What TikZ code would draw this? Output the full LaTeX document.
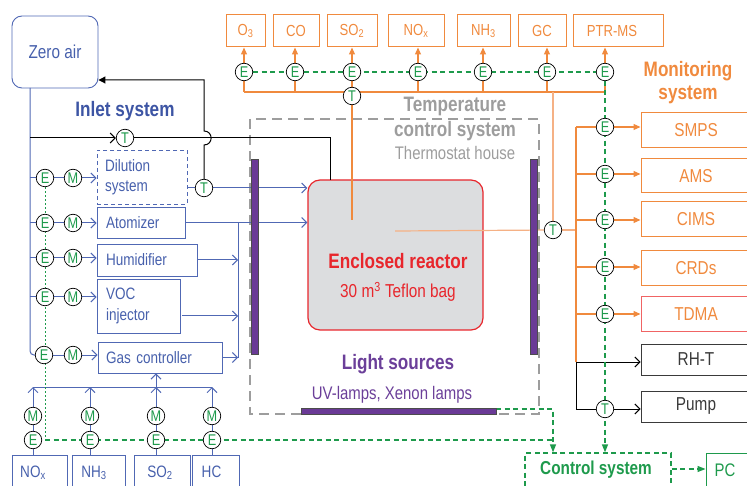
\documentclass[tikz,border=0pt]{standalone}
\usepackage{fontspec}
\setmainfont[FakeStretch=0.82]{Liberation Sans}
\usetikzlibrary{arrows.meta,calc}
\pgfdeclarelayer{fg}
\pgfsetlayers{main,fg}
\definecolor{cblue}{HTML}{5068B4}
\definecolor{cbluet}{HTML}{4760AC}
\definecolor{cbluebold}{HTML}{3D55A4}
\definecolor{corange}{HTML}{F08A3E}
\definecolor{corlight}{HTML}{F5B185}
\definecolor{cgreen}{HTML}{1E9A4C}
\definecolor{cgray}{HTML}{9D9D9D}
\definecolor{cred}{HTML}{E8262C}
\definecolor{cpurple}{HTML}{6B3F99}
\definecolor{cpbar}{HTML}{6A3A96}
\definecolor{creact}{HTML}{DCDDDF}
\definecolor{cdark}{HTML}{3A3A3A}
\definecolor{ctdma}{HTML}{F06464}
\newcommand{\myfs}[1]{\fontsize{#1}{#1}\selectfont}
\begin{document}
\begin{tikzpicture}[x=1pt,y=-1pt,
  every node/.style={inner sep=0pt},
  bbox/.style={draw=cblue,line width=0.9pt,text=cbluet,font=\myfs{16.5}},
  obox/.style={draw=corange,line width=1pt,text=corange,font=\myfs{16},minimum height=32pt},
  mbox/.style={draw=corange,line width=1pt,text=corange,font=\myfs{18.7},minimum width=110pt,minimum height=34pt},
  kbox/.style={draw=cdark,line width=0.9pt,text=cdark,font=\myfs{18.7},minimum width=110pt,minimum height=31pt},
  circ/.style={circle,draw=black,line width=0.7pt,fill=white,minimum size=17.5pt,text=cgreen,font=\myfs{15.5}},
  bline/.style={draw=cblue,line width=1pt},
  oline/.style={draw=corange,line width=1.2pt},
  lline/.style={draw=corlight,line width=1.2pt},
  kline/.style={draw=black,line width=1pt},
  gdash/.style={draw=cgreen,line width=1.3pt,dash pattern=on 5pt off 3.5pt},
  gdot/.style={draw=cgreen,line width=1pt,dash pattern=on 2pt off 2pt},
  barb/.style={-{Straight Barb[length=5pt,width=10pt]}},
  otri/.style={-{Triangle[length=7pt,width=6pt]}},
  ktri/.style={-{Triangle[length=7pt,width=7pt]}},
  gtri/.style={-{Triangle[length=8pt,width=6pt]}},
  pbar/.style={fill=cpbar,draw=black!70,line width=0.5pt},
  txt/.style={anchor=base}
]
\useasboundingbox (0,0) rectangle (747,486);
\clip (0,0) rectangle (747,486);

% ---------- boxes ----------
\node[bbox,rounded corners=10pt,minimum width=86pt,minimum height=72pt,font=\myfs{18.7}] (zero) at (55,52) {Zero air};
\node[txt,text=cbluebold,font=\bfseries\myfs{20.9}] (inlet) at (125,117) {Inlet system};

\node[bbox,dash pattern=on 4pt off 3pt,minimum width=90pt,minimum height=54pt,text width=74pt,align=left,font=\fontsize{16.5}{19.5}\selectfont] (dil) at (142,177) {Dilution\\system};
\node[bbox,minimum width=88pt,minimum height=31pt,text width=70pt,align=left] (atom) at (141,222.5) {Atomizer};
\node[bbox,minimum width=100pt,minimum height=32pt,text width=82pt,align=left] (hum) at (147,260) {Humidifier};
\node[bbox,minimum width=83pt,minimum height=54pt,text width=65pt,align=left,font=\fontsize{16.5}{20.5}\selectfont] (voc) at (138.5,306) {VOC\\injector};
\node[bbox,minimum width=124pt,minimum height=31pt,text width=108pt,align=left] (gas) at (160,357.5) {Gas controller};

% bottom gas sources
\node[bbox,minimum width=55pt,minimum height=35pt] (bNO) at (39.5,472.5) {};
\node[bbox,minimum width=53pt,minimum height=35pt] (bNH) at (98.5,472.5) {};
\node[bbox,minimum width=56pt,minimum height=35pt] (bSO) at (162,472.5) {};
\node[bbox,minimum width=47pt,minimum height=35pt] (bHC) at (215.5,472.5) {};
\node[txt,text=cbluet,font=\myfs{16.5}] (tNO) at (33,477) {NO\textsubscript{x}};
\node[txt,text=cbluet,font=\myfs{16.5}] (tNH) at (94,477) {NH\textsubscript{3}};
\node[txt,text=cbluet,font=\myfs{16.5}] (tSO) at (160,477) {SO\textsubscript{2}};
\node[txt,text=cbluet,font=\myfs{16.5}] (tHC) at (211.5,477) {HC};

% top monitors
\node[obox,minimum width=39pt] (bO3) at (245.5,31) {O\textsubscript{3}};
\node[obox,minimum width=46pt] (bCO) at (296,31) {CO};
\node[obox,minimum width=50pt] (bSO2) at (352,31) {SO\textsubscript{2}};
\node[obox,minimum width=56pt] (bNOx) at (416,31) {NO\textsubscript{x}};
\node[obox,minimum width=53pt] (bNH3) at (483.5,31) {NH\textsubscript{3}};
\node[obox,minimum width=48pt] (bGC) at (542,31) {GC};
\node[obox,minimum width=90pt] (bPT) at (618,31) {\hspace*{-12pt}PTR-MS};

\node[txt,text=corange,font=\bfseries\myfs{20.9}] (mon1) at (688,77) {Monitoring};
\node[txt,text=corange,font=\bfseries\myfs{20.9}] (mon2) at (688,100) {system};

% right instruments
\node[mbox,minimum height=35pt] (bSM) at (696,130.5) {SMPS};
\node[mbox] (bAM) at (696,176) {AMS};
\node[mbox,minimum height=35pt] (bCI) at (696,219.5) {CIMS};
\node[mbox,minimum height=35pt] (bCR) at (696,268.5) {CRDs};
\node[mbox,draw=ctdma,minimum height=35pt] (bTD) at (696,314.5) {TDMA};
\node[kbox] (bRH) at (696,359.5) {RH-T};
\node[kbox] (bPU) at (696,406.5) {Pump};

% reactor
\node[draw=cred,line width=1.2pt,fill=creact,rounded corners=12pt,minimum width=175pt,minimum height=150pt] (reac) at (395.5,255) {};
\node[txt,text=cred,font=\bfseries\myfs{20.9}] (reacT) at (398,269) {Enclosed reactor};
\node[txt,text=cred,font=\myfs{18.7}] (reacS) at (398,298) {30 m\textsuperscript{3} Teflon bag};

% temperature control
\draw[draw=cgray,line width=2.5pt,dash pattern=on 10pt off 6pt] (250,119) rectangle (539,414);
\node[txt,text=cgray,font=\bfseries\myfs{20.9}] (tc1) at (455,112) {Temperature};
\node[txt,text=cgray,font=\bfseries\myfs{20.9}] (tc2) at (455,137) {control system};
\node[txt,text=cgray,font=\myfs{18.2}] (tc3) at (455,160) {Thermostat house};

\node[txt,text=cpurple,font=\bfseries\myfs{20.9}] (ls1) at (398,370) {Light sources};
\node[txt,text=cpurple,font=\myfs{18.2}] (ls2) at (392,399) {UV-lamps, Xenon lamps};

% control system and PC
\node[draw=cgreen,line width=1.3pt,dash pattern=on 5pt off 3.5pt,minimum width=146pt,minimum height=37pt] (ctrl) at (598,471.5) {};
\node[txt,text=cgreen,font=\bfseries\myfs{18.7}] (ctrlT) at (596,474) {Control system};
\node[draw=cgreen,line width=1pt,minimum width=54pt,minimum height=37pt] (pc) at (733,471.5) {};
\node[txt,text=cgreen,font=\myfs{18.2}] (pcT) at (725,476) {PC};

% ---------- circles ----------
\begin{pgfonlayer}{fg}
\node[circ] (eD) at (45,178) {E}; \node[circ] (mD) at (73,178) {M};
\node[circ] (eA) at (45,223) {E}; \node[circ] (mA) at (73,223) {M};
\node[circ] (eH) at (45,258) {E}; \node[circ] (mH) at (73,258) {M};
\node[circ] (eV) at (45,297) {E}; \node[circ] (mV) at (73,297) {M};
\node[circ] (eG) at (44,355) {E}; \node[circ] (mG) at (73,355) {M};
\node[circ] (tT) at (125,138) {T};
\node[circ] (tD) at (204,188) {T};
\node[circ] (eO3) at (244,72) {E};
\node[circ] (eCO) at (295,72) {E};
\node[circ] (eSO2) at (352,72) {E};
\node[circ] (eNOx) at (418,72) {E};
\node[circ] (eNH3) at (483,72) {E};
\node[circ] (eGC) at (547,72) {E};
\node[circ] (ePT) at (605,72) {E};
\node[circ] (tTop) at (352,96) {T};
\node[circ] (tR) at (553,230) {T};
\node[circ] (eSM) at (605,127) {E};
\node[circ] (eAM) at (605,174) {E};
\node[circ] (eCI) at (605,220) {E};
\node[circ] (eCR) at (605,267) {E};
\node[circ] (eTD) at (605,314) {E};
\node[circ] (tP) at (605,409) {T};
\node[circ] (eb1) at (33,440) {E}; \node[circ] (mb1) at (33,416) {M};
\node[circ] (eb2) at (90,440) {E}; \node[circ] (mb2) at (90,416) {M};
\node[circ] (eb3) at (156,440) {E}; \node[circ] (mb3) at (156,416) {M};
\node[circ] (eb4) at (212,440) {E}; \node[circ] (mb4) at (212,416) {M};
\end{pgfonlayer}

% ---------- coordinates ----------
\coordinate (zaout) at (30,88);
\coordinate (rtop) at (330,180);
\coordinate (retc) at (204,80);
\coordinate (coll) at (238,223);
\coordinate (vocout) at (182,316);
\coordinate (busb) at (0,387);
\coordinate (gbot) at (0,440);
\coordinate (cjoin) at (553,440);
\coordinate (lampR) at (496,409);
\coordinate (pcy) at (0,469);
\coordinate (busy) at (0,92);
\coordinate (rin1) at (352,220);
\coordinate (rin2) at (395,231);
\coordinate (rvtop) at (576,127);
\coordinate (rvbot) at (576,362);

% ---------- inlet connectors ----------
\draw[bline,rounded corners=4pt] (zaout) -- (zaout |- eG) -- (eG);
\foreach \e in {eD,eA,eH,eV} \draw[bline] (zaout |- \e) -- (\e);
\draw[bline] (eD) -- (mD); \draw[bline,barb] (mD) -- (mD -| dil.west);
\draw[bline] (eA) -- (mA); \draw[bline,barb] (mA) -- (mA -| atom.west);
\draw[bline] (eH) -- (mH); \draw[bline,barb] (mH) -- (mH -| hum.west);
\draw[bline] (eV) -- (mV); \draw[bline,barb] (mV) -- (mV -| voc.west);
\draw[bline] (eG) -- (mG); \draw[bline,barb] (mG) -- (mG -| gas.west);

\draw[kline,barb] (zaout |- tT) -- (tT);
\draw[kline] (tT) -- (tT -| rtop) -- (rtop);
\draw[kline,ktri] (tD) -- (204,145) .. controls (213.5,145) and (213.5,131) .. (204,131) -- (retc) -- (retc -| zero.east);

\draw[bline] (dil.east |- tD) -- (tD);
\draw[bline,barb] (tD) -- (tD -| reac.west);
\draw[bline,barb] (atom.east) -- (atom.east -| reac.west);
\draw[bline] (coll) -- (coll |- gas.east);
\draw[bline,barb] (hum.east) -- (hum.east -| coll);
\draw[bline,barb] (vocout) -- (vocout -| coll);
\draw[bline,barb] (gas.east) -- (gas.east -| coll);

\draw[bline,barb] (bNO.north -| eb1) -- (eb1 |- busb);
\draw[bline,barb] (bNH.north -| eb2) -- (eb2 |- busb);
\draw[bline,barb] (bSO.north -| eb3) -- (eb3 |- busb);
\draw[bline,barb] (bHC.north -| eb4) -- (eb4 |- busb);
\draw[bline] (eb1 |- busb) -- (eb4 |- busb);
\draw[bline,barb] (eb3 |- busb) -- (eb3 |- gas.south);

% ---------- monitoring connectors ----------
\foreach \e/\b in {eO3/bO3,eCO/bCO,eSO2/bSO2,eNOx/bNOx,eNH3/bNH3,eGC/bGC,ePT/bPT}{
  \draw[oline] (\e |- busy) -- (\e);
  \draw[oline,otri] (\e) -- (\e |- \b.south);
}
\draw[oline] (eO3 |- busy) -- (ePT |- busy);
\draw[oline] (tTop) -- (rin1);
\draw[lline] (tR |- busy) -- (tR);
\draw[lline] (tR) -- (rin2);
\draw[lline] (tR) -- (tR -| rvtop);
\draw[oline] (rvtop) -- (rvbot);
\foreach \e/\b in {eSM/bSM,eAM/bAM,eCI/bCI,eCR/bCR,eTD/bTD}{
  \draw[oline] (rvtop |- \e) -- (\e);
  \draw[oline,otri] (\e) -- (\e -| \b.west);
}
\draw[kline,barb] (rvbot) -- (rvbot -| bRH.west);
\draw[kline] (rvbot) -- (rvbot |- tP) -- (tP);
\draw[kline,barb] (tP) -- (tP -| bPU.west);

% ---------- control (green) ----------
\draw[gdot] (eD) -- (eD |- gbot);
\draw[gdash] (eD |- gbot) -- (cjoin);
\draw[gdash] (eO3) -- (ePT);
\draw[gdash,gtri] (ePT) -- (ePT |- ctrl.north);
\draw[gdash,gtri] (lampR) -- (lampR -| cjoin) -- (cjoin |- ctrl.north);
\draw[gdash,gtri] (ctrl.east |- pcy) -- (pc.west |- pcy);

% ---------- light bars ----------
\draw[pbar] (251,159) rectangle (258,354);
\draw[pbar] (530,159) rectangle (537,354);
\draw[pbar] (301,408) rectangle (496,414);
\end{tikzpicture}
\end{document}
